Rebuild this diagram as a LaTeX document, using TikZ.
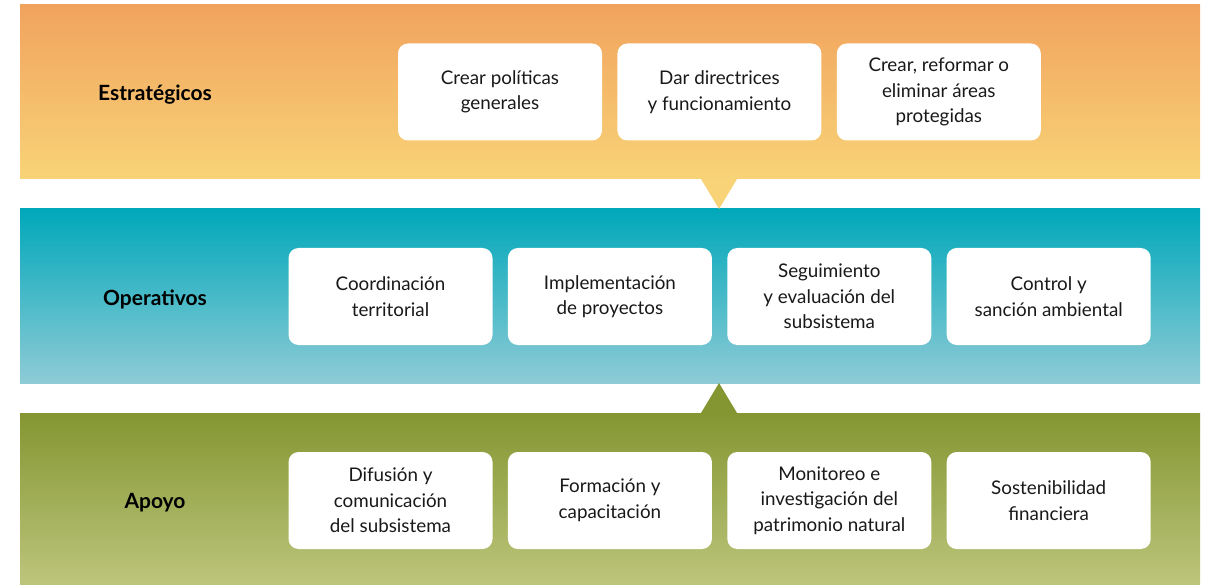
\documentclass[tikz,border=0pt]{standalone}
\usepackage{fontspec}
\setmainfont{Lato}
\usetikzlibrary{positioning}

\definecolor{estTop}{HTML}{F1A35E}
\definecolor{estBot}{HTML}{F8D377}
\definecolor{opeTop}{HTML}{00A8BA}
\definecolor{opeBot}{HTML}{8ECBD6}
\definecolor{apoTop}{HTML}{849632}
\definecolor{apoMid}{HTML}{A0B142}
\definecolor{apoBot}{HTML}{BDC57C}

\tikzset{
  tarea/.style={fill=white, rounded corners=10pt, minimum width=204pt,
    minimum height=97pt, align=center, inner sep=0pt, text=black!90,
    font=\fontsize{18.8}{25.5}\selectfont},
  nivel/.style={font=\bfseries\fontsize{21}{25}\selectfont, text=black},
}

\begin{document}
\begin{tikzpicture}[x=1pt,y=-1pt]
  \useasboundingbox (0,0) rectangle (1210,585);

  % bands
  \shade[top color=estTop, bottom color=estBot] (20,5) rectangle (1200,179);
  \shade[top color=opeTop, bottom color=opeBot] (20,209) rectangle (1200,383);
  \shade[top color=apoTop, middle color=apoMid, bottom color=apoBot] (20,413) rectangle (1200,585);

  % pointers between bands
  \fill[estBot] (701,179) -- (737,179) -- (719,209) -- cycle;
  \fill[apoTop] (701,413) -- (737,413) -- (719,383) -- cycle;

  % levels
  \node[nivel] (est) at (155,95) {Estratégicos};
  \node[nivel] (ope) at (155,299) {Operativos};
  \node[nivel] (apo) at (155,503) {Apoyo};

  % strategic
  \node[tarea] (e1) at (500,92) {Crear políticas\\generales};
  \node[tarea, right=15pt of e1] (e2) {Dar directrices\\y funcionamiento};
  \node[tarea, right=15pt of e2] (e3) {Crear, reformar o\\eliminar áreas\\protegidas};

  % operative
  \node[tarea] (o1) at (390.5,296.5) {Coordinación\\territorial};
  \node[tarea, right=15pt of o1] (o2) {Implementación\\de proyectos};
  \node[tarea, right=15pt of o2] (o3) {Seguimiento\\y evaluación del\\subsistema};
  \node[tarea, right=15pt of o3] (o4) {Control y\\sanción ambiental};

  % support
  \node[tarea] (a1) at (390.5,500.5) {Difusión y\\comunicación\\del subsistema};
  \node[tarea, right=15pt of a1] (a2) {Formación y\\capacitación};
  \node[tarea, right=15pt of a2] (a3) {Monitoreo e\\investigación del\\patrimonio natural};
  \node[tarea, right=15pt of a3] (a4) {Sostenibilidad\\financiera};
\end{tikzpicture}
\end{document}
